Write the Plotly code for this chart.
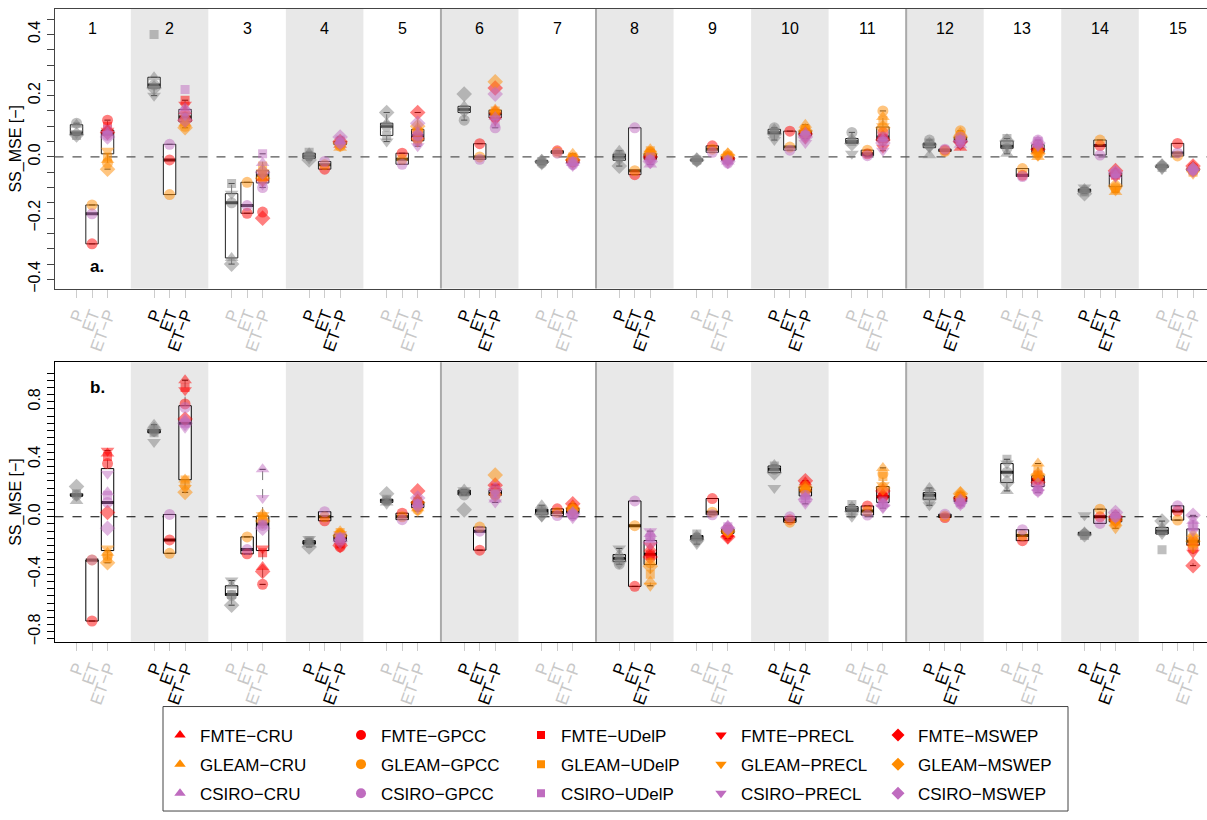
import numpy as np
import plotly.graph_objects as go

# ---------------- data ----------------
group_labels = [str(i) for i in range(1, 16)]
column_labels = ["P", "ET", "ET\u2212P"]
et_products = ["FMTE", "GLEAM", "CSIRO"]
p_products = ["CRU", "GPCC", "UDelP", "PRECL", "MSWEP"]

# panel a: P skill per P product (CRU, GPCC, UDelP, PRECL, MSWEP)
a_P = [
    [0.105, 0.11, 0.07, 0.078, 0.072],
    [0.26, 0.235, 0.40, 0.20, 0.225],
    [-0.33, -0.15, -0.087, -0.12, -0.35],
    [0.012, 0.003, 0.015, -0.005, -0.01],
    [0.11, 0.10, 0.07, 0.05, 0.145],
    [0.165, 0.12, 0.155, 0.145, 0.205],
    [-0.01, -0.02, -0.015, -0.025, -0.015],
    [0.02, 0.0, 0.009, -0.011, -0.03],
    [-0.005, -0.012, -0.01, -0.015, -0.01],
    [0.09, 0.095, 0.08, 0.055, 0.075],
    [0.06, 0.08, 0.05, 0.01, 0.044],
    [0.005, 0.055, 0.045, 0.03, 0.04],
    [0.01, 0.028, 0.06, 0.035, 0.052],
    [-0.105, -0.11, -0.115, -0.10, -0.12],
    [-0.025, -0.03, -0.035, -0.04, -0.03],
]
# panel a: ET skill per ET product (FMTE, GLEAM, CSIRO)
a_ET = [
    [-0.284, -0.157, -0.186],
    [-0.01, -0.123, 0.041],
    [-0.184, -0.083, -0.159],
    [-0.04, -0.026, -0.015],
    [0.012, -0.008, -0.024],
    [0.043, 0.0, -0.008],
    [0.02, 0.015, 0.012],
    [-0.058, -0.045, 0.095],
    [0.036, 0.025, 0.015],
    [0.084, 0.032, 0.022],
    [0.01, 0.022, 0.004],
    [0.022, 0.018, 0.025],
    [-0.06, -0.038, -0.064],
    [0.037, 0.055, 0.006],
    [0.044, 0.003, 0.013],
]
# panel a: ET-P skill, one list per ET product, columns = P products
a_ETP_FMTE = [
    [0.09, 0.12, 0.10, 0.085, 0.08],
    [0.15, 0.13, 0.185, 0.17, 0.12],
    [-0.07, -0.18, -0.06, -0.08, -0.20],
    [0.04, 0.045, 0.05, 0.04, 0.05],
    [0.07, 0.08, 0.065, 0.05, 0.145],
    [0.15, 0.13, 0.14, 0.12, 0.225],
    [-0.01, -0.015, -0.005, -0.02, -0.01],
    [0.0, 0.005, 0.01, -0.005, 0.0],
    [0.0, -0.005, 0.0, -0.01, -0.005],
    [0.085, 0.08, 0.08, 0.06, 0.075],
    [0.07, 0.08, 0.06, 0.03, 0.055],
    [0.03, 0.06, 0.05, 0.04, 0.05],
    [0.02, 0.04, 0.03, 0.015, 0.025],
    [-0.05, -0.055, -0.06, -0.065, -0.045],
    [-0.03, -0.035, -0.04, -0.045, -0.03],
]
a_ETP_GLEAM = [
    [-0.01, -0.02, 0.0, 0.02, -0.04],
    [0.11, 0.10, 0.13, 0.11, 0.095],
    [-0.04, -0.06, -0.03, -0.05, -0.07],
    [0.03, 0.035, 0.04, 0.035, 0.045],
    [0.095, 0.085, 0.055, 0.05, 0.10],
    [0.155, 0.14, 0.15, 0.145, 0.245],
    [0.01, -0.005, 0.0, -0.015, -0.01],
    [0.025, 0.015, 0.02, 0.01, 0.01],
    [0.012, 0.0, 0.005, 0.0, 0.005],
    [0.105, 0.09, 0.09, 0.075, 0.085],
    [0.13, 0.15, 0.12, 0.10, 0.095],
    [0.08, 0.085, 0.07, 0.06, 0.065],
    [0.0, 0.02, 0.015, 0.005, 0.01],
    [-0.115, -0.10, -0.105, -0.11, -0.095],
    [-0.04, -0.045, -0.05, -0.055, -0.04],
]
a_ETP_CSIRO = [
    [0.08, 0.07, 0.09, 0.075, 0.065],
    [0.16, 0.15, 0.22, 0.135, 0.12],
    [-0.02, -0.10, 0.01, -0.09, -0.05],
    [0.05, 0.045, 0.055, 0.04, 0.065],
    [0.08, 0.07, 0.05, 0.035, 0.11],
    [0.13, 0.095, 0.11, 0.125, 0.205],
    [-0.02, -0.025, -0.015, -0.03, -0.02],
    [-0.025, -0.01, 0.0, -0.02, -0.015],
    [-0.015, -0.02, -0.01, -0.02, -0.015],
    [0.08, 0.07, 0.07, 0.045, 0.065],
    [0.06, 0.065, 0.05, 0.02, 0.045],
    [0.04, 0.065, 0.055, 0.045, 0.05],
    [0.04, 0.055, 0.05, 0.035, 0.045],
    [-0.06, -0.05, -0.055, -0.065, -0.05],
    [-0.035, -0.04, -0.045, -0.05, -0.04],
]

# panel b
b_P = [
    [0.11, 0.15, 0.16, 0.145, 0.21],
    [0.64, 0.595, 0.584, 0.52, 0.607],
    [-0.48, -0.547, -0.54, -0.443, -0.615],
    [-0.19, -0.18, -0.166, -0.155, -0.21],
    [0.10, 0.11, 0.122, 0.09, 0.16],
    [0.19, 0.152, 0.17, 0.185, 0.048],
    [0.08, 0.04, 0.053, 0.0, 0.018],
    [-0.263, -0.33, -0.29, -0.22, -0.31],
    [-0.131, -0.145, -0.12, -0.19, -0.161],
    [0.36, 0.33, 0.353, 0.2, 0.307],
    [0.07, 0.05, 0.085, 0.0, 0.037],
    [0.2, 0.15, 0.168, 0.08, 0.122],
    [0.18, 0.31, 0.40, 0.37, 0.238],
    [-0.108, -0.12, -0.131, 0.01, -0.125],
    [-0.074, -0.1, -0.23, -0.12, -0.03],
]
b_ET = [
    [-0.725, -0.30, -0.30],
    [-0.161, -0.254, 0.016],
    [-0.258, -0.14, -0.228],
    [-0.028, 0.0, 0.035],
    [0.025, 0.0, -0.02],
    [-0.232, -0.072, -0.10],
    [0.055, 0.03, 0.008],
    [-0.484, -0.062, 0.11],
    [0.127, 0.032, 0.014],
    [-0.02, -0.038, 0.0],
    [0.075, 0.04, 0.012],
    [-0.005, 0.005, 0.018],
    [-0.166, -0.13, -0.09],
    [0.0, 0.053, -0.046],
    [0.04, -0.023, 0.076],
]
b_ETP_FMTE = [
    [0.44, 0.37, 0.42, 0.46, 0.03],
    [0.95, 0.785, 0.90, 0.88, 0.68],
    [-0.35, -0.47, -0.25, -0.22, -0.38],
    [-0.17, -0.21, -0.19, -0.16, -0.20],
    [0.12, 0.10, 0.11, 0.08, 0.18],
    [0.17, 0.16, 0.20, 0.18, 0.22],
    [0.08, 0.05, 0.06, 0.03, 0.09],
    [-0.22, -0.26, -0.27, -0.20, -0.28],
    [-0.12, -0.13, -0.11, -0.15, -0.14],
    [0.24, 0.22, 0.21, 0.17, 0.25],
    [0.16, 0.14, 0.135, 0.12, 0.18],
    [0.14, 0.12, 0.13, 0.10, 0.13],
    [0.28, 0.26, 0.29, 0.25, 0.24],
    [-0.01, -0.02, -0.015, -0.04, 0.0],
    [-0.18, -0.22, -0.17, -0.25, -0.34],
]
b_ETP_GLEAM = [
    [-0.25, -0.27, -0.29, -0.22, -0.32],
    [0.26, 0.22, 0.255, 0.20, 0.17],
    [0.02, -0.02, 0.0, 0.01, -0.03],
    [-0.10, -0.12, -0.11, -0.12, -0.13],
    [0.06, 0.05, 0.07, 0.04, 0.10],
    [0.17, 0.15, 0.16, 0.14, 0.29],
    [0.06, 0.05, 0.04, 0.03, 0.06],
    [-0.45, -0.32, -0.40, -0.48, -0.345],
    [-0.09, -0.10, -0.09, -0.11, -0.10],
    [0.20, 0.19, 0.18, 0.16, 0.205],
    [0.34, 0.30, 0.28, 0.22, 0.20],
    [0.17, 0.15, 0.14, 0.12, 0.16],
    [0.37, 0.28, 0.33, 0.28, 0.29],
    [-0.04, -0.05, -0.03, -0.08, -0.02],
    [-0.12, -0.15, -0.18, -0.215, -0.17],
]
b_ETP_CSIRO = [
    [0.17, 0.10, 0.15, 0.30, -0.08],
    [0.68, 0.76, 0.65, 0.62, 0.65],
    [0.33, -0.06, -0.05, 0.13, -0.08],
    [-0.14, -0.16, -0.15, -0.13, -0.17],
    [0.09, 0.08, 0.09, 0.06, 0.13],
    [0.12, 0.15, 0.16, 0.10, 0.19],
    [0.03, 0.01, 0.02, -0.01, 0.02],
    [-0.12, -0.14, -0.15, -0.10, -0.18],
    [-0.06, -0.08, -0.07, -0.09, -0.08],
    [0.14, 0.15, 0.13, 0.09, 0.12],
    [0.088, 0.09, 0.11, 0.06, 0.08],
    [0.11, 0.09, 0.10, 0.08, 0.11],
    [0.20, 0.18, 0.19, 0.17, 0.22],
    [0.01, 0.0, 0.02, -0.01, 0.03],
    [-0.03, -0.06, -0.07, -0.10, 0.01],
]

a_ytick_vals = [-0.4, -0.2, 0.0, 0.2, 0.4]
a_ytick_text = ["\u22120.4", "\u22120.2", "0.0", "0.2", "0.4"]
b_ytick_vals = [-0.8, -0.4, 0.0, 0.4, 0.8]
b_ytick_text = ["\u22120.8", "\u22120.4", "0.0", "0.4", "0.8"]
panel_letters = ["a.", "b."]
y_title = "SS_MSE [\u2212]"

# ---------------- styling ----------------
FONT = "Liberation Sans, Arial, Helvetica, sans-serif"
et_colors = {"FMTE": "#ff0000", "GLEAM": "#ff8c00", "CSIRO": "#bf6cbf"}
p_grey = "#7f7f7f"
p_symbols = {"CRU": "triangle-up", "GPCC": "circle", "UDelP": "square",
             "PRECL": "triangle-down", "MSWEP": "diamond"}
p_sizes = {"CRU": 12, "GPCC": 11, "UDelP": 9, "PRECL": 12, "MSWEP": 12}
PT_OPACITY = 0.5
W, H = 1207, 820


def xpos(g, j):
    return 5 * g + j + 1


def fivenum(v):
    x = np.sort(np.asarray(v, dtype=float))
    n = len(x)
    n4 = np.floor((n + 3) / 2) / 2
    d = np.array([1, n4, (n + 1) / 2, n + 1 - n4, n])
    return 0.5 * (x[np.floor(d).astype(int) - 1] + x[np.ceil(d).astype(int) - 1])


fig = go.Figure()


def add_panel(P, ET, ETP, xa, ya, frame_col):
    pos, q1, med, q3 = [], [], [], []
    wx, wy, sx, sy, mx, my = [], [], [], [], [], []
    for g in range(15):
        cols = [np.asarray(P[g], float),
                np.repeat(np.asarray(ET[g], float), 5),
                np.concatenate([np.asarray(ETP[e][g], float) for e in et_products])]
        for j, v in enumerate(cols):
            x = xpos(g, j)
            fn = fivenum(v)
            lo, md, hi = fn[1], fn[2], fn[3]
            iqr = hi - lo
            up = v[v <= hi + 1.5 * iqr].max()
            dn = v[v >= lo - 1.5 * iqr].min()
            pos.append(x); q1.append(lo); med.append(md); q3.append(hi)
            wx += [x, x, None, x, x, None]
            wy += [hi, up, None, lo, dn, None]
            sx += [x - 0.2, x + 0.2, None, x - 0.2, x + 0.2, None]
            sy += [up, up, None, dn, dn, None]
            mx += [x - 0.4, x + 0.4, None]
            my += [md, md, None]
    fig.add_trace(go.Box(x=pos, q1=q1, median=med, q3=q3, lowerfence=q1, upperfence=q3,
                         width=0.8, fillcolor="white", line=dict(color=frame_col, width=1),
                         whiskerwidth=0, boxpoints=False, showlegend=False,
                         hoverinfo="skip", xaxis=xa, yaxis=ya))
    fig.add_trace(go.Scatter(x=wx, y=wy, mode="lines", line=dict(color="#777", width=1, dash="dash"),
                             showlegend=False, hoverinfo="skip", xaxis=xa, yaxis=ya))
    fig.add_trace(go.Scatter(x=sx, y=sy, mode="lines", line=dict(color=frame_col, width=1),
                             showlegend=False, hoverinfo="skip", xaxis=xa, yaxis=ya))
    fig.add_trace(go.Scatter(x=mx, y=my, mode="lines", line=dict(color=frame_col, width=3),
                             showlegend=False, hoverinfo="skip", xaxis=xa, yaxis=ya))
    # P points (grey)
    for k, p in enumerate(p_products):
        fig.add_trace(go.Scatter(
            x=[xpos(g, 0) for g in range(15)], y=[P[g][k] for g in range(15)],
            mode="markers", marker=dict(symbol=p_symbols[p], size=p_sizes[p], color=p_grey,
                                        opacity=PT_OPACITY, line=dict(width=0)),
            name="P " + p, showlegend=False, xaxis=xa, yaxis=ya))
    # ET points
    for e_i, e in enumerate(et_products):
        fig.add_trace(go.Scatter(
            x=[xpos(g, 1) for g in range(15)], y=[ET[g][e_i] for g in range(15)],
            mode="markers", marker=dict(symbol="circle", size=11, color=et_colors[e],
                                        opacity=PT_OPACITY, line=dict(width=0)),
            name="ET " + e, showlegend=False, xaxis=xa, yaxis=ya))
    # ET-P points
    for e in et_products:
        for k, p in enumerate(p_products):
            fig.add_trace(go.Scatter(
                x=[xpos(g, 2) for g in range(15)], y=[ETP[e][g][k] for g in range(15)],
                mode="markers", marker=dict(symbol=p_symbols[p], size=p_sizes[p],
                                            color=et_colors[e], opacity=PT_OPACITY,
                                            line=dict(width=0)),
                name=f"{e}\u2212{p}", legendgroup=f"{e}-{p}", showlegend=False,
                xaxis=xa, yaxis=ya))


add_panel(a_P, a_ET, {"FMTE": a_ETP_FMTE, "GLEAM": a_ETP_GLEAM, "CSIRO": a_ETP_CSIRO},
          "x", "y", "#222")
add_panel(b_P, b_ET, {"FMTE": b_ETP_FMTE, "GLEAM": b_ETP_GLEAM, "CSIRO": b_ETP_CSIRO},
          "x2", "y2", "#000")

# legend entries (5 legends, one column each)
legend_left_px = [160, 341, 521, 701, 878]
for k, p in enumerate(p_products):
    lname = "legend" if k == 0 else f"legend{k + 1}"
    for e in et_products:
        fig.add_trace(go.Scatter(
            x=[None], y=[None], mode="markers",
            marker=dict(symbol=p_symbols[p], size=10 if p != "UDelP" else 8, color=et_colors[e]),
            name=f"{e}\u2212{p}", legendgroup=f"{e}-{p}", legend=lname, showlegend=True))
    fig.update_layout({lname: dict(x=legend_left_px[k] / W, y=1 - 721 / H, xanchor="left",
                                   yanchor="top", orientation="v", bgcolor="rgba(0,0,0,0)",
                                   borderwidth=0, font=dict(size=17, color="black", family=FONT),
                                   tracegroupgap=4, itemwidth=30)})

# ---------------- axes ----------------
x_range = [-0.42, 73.9]
tick_pos = [xpos(g, j) for g in range(15) for j in range(3)]
tick_txt = []
for g in range(15):
    c = "#000000" if g % 2 == 1 else "#c8c8c8"
    for t in column_labels:
        tick_txt.append(f"<span style='color:{c}'>{t}</span>")

x_dom = [54.5 / W, 1.0]
ya_dom = [1 - 290 / H, 1 - 9 / H]
yb_dom = [1 - 645 / H, 1 - 364 / H]

common_x = dict(range=x_range, tickmode="array", tickvals=tick_pos, ticktext=tick_txt,
                tickangle=-70, ticks="outside", ticklen=8, tickcolor="#cccccc",
                tickfont=dict(size=17, family=FONT), showgrid=False, zeroline=False,
                showline=True, mirror=True, domain=x_dom, fixedrange=True)

minor_a = np.round(np.arange(-0.40, 0.451, 0.05), 2)
minor_b = np.round(np.arange(-0.85, 1.001, 0.05), 2)


def ytext(vals, lab_vals, lab_txt):
    out = []
    for v in vals:
        hit = [t for lv, t in zip(lab_vals, lab_txt) if abs(lv - v) < 1e-9]
        out.append(hit[0] if hit else "")
    return out


fig.update_layout(
    xaxis=dict(common_x, anchor="y", linecolor="#444"),
    xaxis2=dict(common_x, anchor="y2", linecolor="#000"),
    yaxis=dict(domain=ya_dom, range=[-0.43, 0.483], tickmode="array", tickvals=list(minor_a),
               ticktext=ytext(minor_a, a_ytick_vals, a_ytick_text), tickangle=-90,
               ticks="outside", ticklen=7, tickcolor="#444", showline=True, linecolor="#444",
               showgrid=False, zeroline=False, anchor="x", tickfont=dict(size=16, family=FONT),
               title=dict(text=y_title, font=dict(size=16, family=FONT), standoff=0),
               fixedrange=True),
    yaxis2=dict(domain=yb_dom, range=[-0.87, 1.075], tickmode="array", tickvals=list(minor_b),
                ticktext=ytext(minor_b, b_ytick_vals, b_ytick_text), tickangle=-90,
                ticks="outside", ticklen=7, tickcolor="#000", showline=True, linecolor="#000",
                showgrid=False, zeroline=False, anchor="x2", tickfont=dict(size=16, family=FONT),
                title=dict(text=y_title, font=dict(size=16, family=FONT), standoff=0),
                fixedrange=True),
)

# ---------------- shapes / annotations ----------------
shapes = []
for xa, ya in [("x", "y"), ("x2", "y2")]:
    for g in range(1, 15, 2):
        shapes.append(dict(type="rect", xref=xa, yref=f"{ya} domain", x0=5 * g - 0.5,
                           x1=5 * g + 4.5, y0=0, y1=1, fillcolor="#e8e8e8",
                           line=dict(width=0), layer="below"))
    for g in [5, 7, 11]:
        shapes.append(dict(type="line", xref=xa, yref=f"{ya} domain", x0=5 * g - 0.5,
                           x1=5 * g - 0.5, y0=0, y1=1, line=dict(color="#aaaaaa", width=2),
                           layer="below"))
    shapes.append(dict(type="line", xref=f"{xa} domain", yref=ya, x0=0, x1=1, y0=0, y1=0,
                       line=dict(color="#555" if ya == "y" else "#000", width=1.2, dash="dash"),
                       layer="below"))
shapes.append(dict(type="rect", xref="paper", yref="paper", x0=163 / W, x1=1068 / W,
                   y0=1 - 815 / H, y1=1 - 710 / H, line=dict(color="#444", width=1)))

annotations = []
for g, lab in enumerate(group_labels):
    annotations.append(dict(x=5 * g + 2, y=0.42, xref="x", yref="y", text=lab, showarrow=False,
                            font=dict(size=16, family=FONT, color="black")))
annotations.append(dict(x=2.35, y=-0.358, xref="x", yref="y", text=f"<b>{panel_letters[0]}</b>",
                        showarrow=False, font=dict(size=17, family=FONT, color="black")))
annotations.append(dict(x=2.35, y=0.90, xref="x2", yref="y2", text=f"<b>{panel_letters[1]}</b>",
                        showarrow=False, font=dict(size=17, family=FONT, color="black")))

fig.update_layout(
    width=W, height=H, margin=dict(l=0, r=0, t=0, b=0),
    paper_bgcolor="white", plot_bgcolor="white",
    font=dict(family=FONT, color="black"),
    shapes=shapes, annotations=annotations, showlegend=True,
)

fig.write_html("out.html", config={"displayModeBar": False},
               post_script="document.body.style.margin='0px';document.body.style.padding='0px';"
                           "document.documentElement.style.overflow='hidden';")
